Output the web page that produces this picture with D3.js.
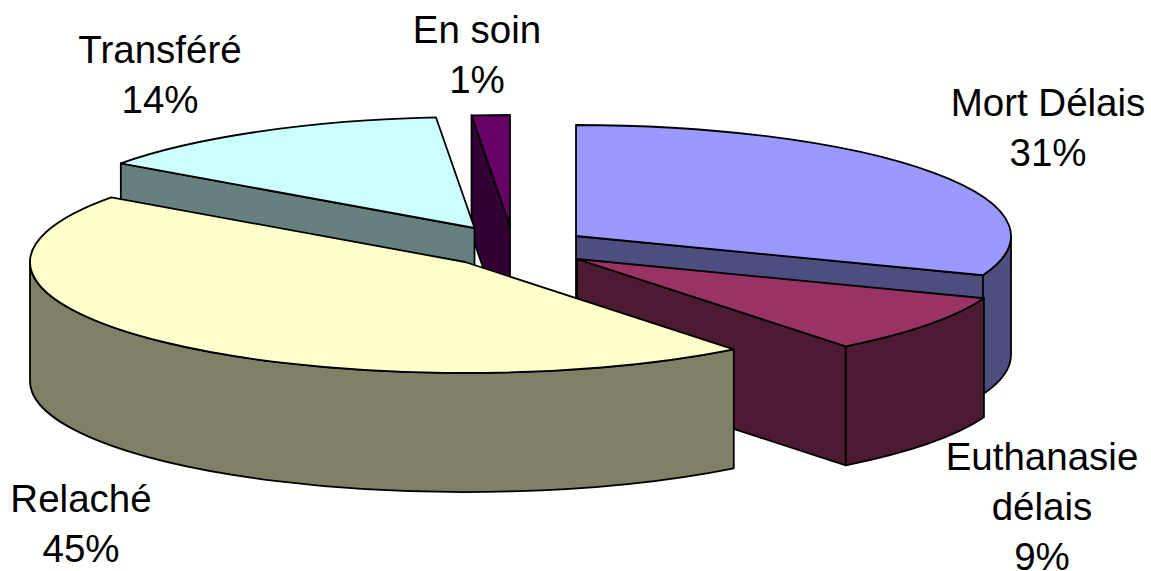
<!DOCTYPE html>
<html>
<head>
<meta charset="utf-8">
<script src="https://cdnjs.cloudflare.com/ajax/libs/d3/7.8.5/d3.min.js"></script>
<style>
html,body{margin:0;padding:0;background:#fff;overflow:hidden}
text{font-family:"Liberation Sans",Arial,sans-serif;font-size:38.5px;fill:#000}
</style>
</head>
<body>
<svg id="chart" width="1151" height="571"></svg>
<script>
// Data
const categories = ["Mort Délais", "Euthanasie délais", "Relaché", "Transféré", "En soin"];
const shares = [0.3075, 0.0865, 0.4549, 0.137, 0.0141];
const labelLines = [["Mort Délais"], ["Euthanasie", "délais"], ["Relaché"], ["Transféré"], ["En soin"]];

// Styling and layout, keyed by category
const topColor = d3.scaleOrdinal(categories, ["#9999FF", "#993366", "#FFFFCC", "#CCFFFF", "#660066"]);
const sideColor = d3.scaleOrdinal(categories, ["#4D4D80", "#4D1A33", "#808066", "#668080", "#330033"]);
const explodedCentre = d3.scaleOrdinal(categories, [[576, 236], [577, 259], [465, 262], [474.5, 228], [510, 226]]);
const labelAnchor = d3.scaleOrdinal(categories, [[1048, 116], [1042, 470], [81, 512], [160, 63], [477, 43]]);
const drawOrder = ["En soin", "Transféré", "Mort Délais", "Euthanasie délais", "Relaché"];

const W = 1151, H = 571, RX = 435, RY = 111, DEPTH = 119, LINE = 50;
const unitX = d3.scaleLinear([-1, 1], [-RX, RX]);
const unitY = d3.scaleLinear([-1, 1], [-RY, RY]);
const pct = d3.format(".0%");

const arcs = d3.pie().sort(null).value(d => d.share)(
  categories.map((name, i) => ({name, share: shares[i], lines: labelLines[i]})));

const svg = d3.select("#chart");

function rim(c, a, dy = 0) {
  return [c[0] + unitX(Math.sin(a)), c[1] - unitY(Math.cos(a)) + dy];
}
function arcTo(c, a0, a1, dy, sweep) {
  const large = Math.abs(a1 - a0) > Math.PI ? 1 : 0;
  const p = rim(c, a1, dy);
  return `A${RX} ${RY} 0 ${large} ${sweep} ${p[0]} ${p[1]}`;
}
function topFace(c, a0, a1) {
  const p = rim(c, a0);
  return `M${c[0]} ${c[1]}L${p[0]} ${p[1]}${arcTo(c, a0, a1, 0, 1)}Z`;
}
function cutFace(c, a) {
  const p = rim(c, a);
  return `M${c[0]} ${c[1]}L${p[0]} ${p[1]}L${p[0]} ${p[1] + DEPTH}L${c[0]} ${c[1] + DEPTH}Z`;
}
function outerWall(c, a0, a1) {
  const s = Math.max(a0, Math.PI / 2), e = Math.min(a1, 3 * Math.PI / 2);
  if (e <= s) return null;
  const p = rim(c, s), q = rim(c, e, DEPTH);
  return `M${p[0]} ${p[1]}${arcTo(c, s, e, 0, 1)}L${q[0]} ${q[1]}${arcTo(c, e, s, DEPTH, 0)}Z`;
}

const slices = svg.selectAll("g.slice")
  .data(drawOrder.map(n => arcs.find(d => d.data.name === n)))
  .join("g").attr("class", "slice")
  .attr("stroke", "#000").attr("stroke-width", 1.8).attr("stroke-linejoin", "round");

slices.each(function(d) {
  const g = d3.select(this), n = d.data.name, c = explodedCentre(n);
  const faces = [];
  if (Math.sin(d.startAngle) < -1e-6) faces.push(cutFace(c, d.startAngle));
  if (Math.sin(d.endAngle) > 1e-6) faces.push(cutFace(c, d.endAngle));
  const wall = outerWall(c, d.startAngle, d.endAngle);
  if (wall) faces.push(wall);
  g.selectAll("path.side").data(faces).join("path").attr("class", "side")
    .attr("d", f => f).attr("fill", sideColor(n));
  g.append("path").attr("class", "top")
    .attr("d", topFace(c, d.startAngle, d.endAngle)).attr("fill", topColor(n));
});

const labels = svg.selectAll("text.label").data(arcs).join("text")
  .attr("class", "label").attr("text-anchor", "middle");
labels.each(function(d) {
  const t = d3.select(this), a = labelAnchor(d.data.name);
  [...d.data.lines, pct(d.data.share)].forEach((s, i) => {
    t.append("tspan").attr("x", a[0]).attr("y", a[1] + i * LINE).text(s);
  });
});
</script>
</body>
</html>
